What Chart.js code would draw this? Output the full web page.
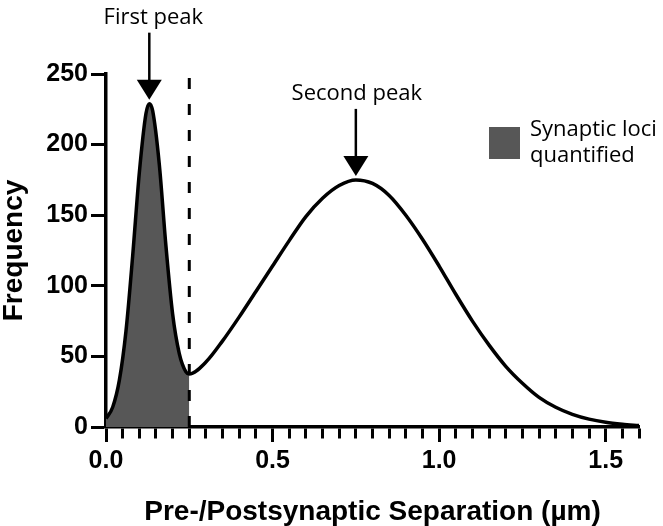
<!DOCTYPE html>
<html>
<head>
<meta charset="utf-8">
<script src="https://cdn.jsdelivr.net/npm/chart.js@4.4.0/dist/chart.umd.min.js"></script>
<style>
  html, body { margin: 0; padding: 0; background: #fff; }
  #wrap { width: 663px; height: 526px; }
</style>
</head>
<body>
<div id="wrap"><canvas id="chart"></canvas></div>
<script>
// separation (um) vs frequency
var separation = [0, 0.02, 0.04, 0.06, 0.08, 0.10, 0.12, 0.13, 0.14, 0.16, 0.18, 0.20, 0.22, 0.24, 0.25,
  0.30, 0.35, 0.40, 0.45, 0.50, 0.55, 0.60, 0.65, 0.70, 0.75, 0.80, 0.85, 0.90, 0.95, 1.00,
  1.05, 1.10, 1.15, 1.20, 1.25, 1.30, 1.35, 1.40, 1.45, 1.50, 1.55, 1.60];
var frequency = [6, 14, 33, 68, 121, 180, 222, 229, 224, 186, 128, 80, 52, 39, 37.5,
  46, 61, 78, 96, 114, 132, 149, 162, 171, 175, 172.5, 164, 150, 133, 114,
  94, 75, 58, 43, 31, 21, 14, 9, 5.6, 3.4, 2, 1];
var cutoff = [0.25];
var peakX = [0.13, 0.75];
var peakY = [229, 175];
var peakLabels = ['First peak', 'Second peak'];
var legendLines = ['Synaptic loci', 'quantified'];
var xRange = [0, 1.6];
var xTicks = [0, 0.5, 1.0, 1.5];
var yTicks = [0, 50, 100, 150, 200, 250];
var minorStep = 0.05;

var curve = separation.map(function (x, i) { return { x: x, y: frequency[i] }; });
var shaded = curve.filter(function (p) { return p.x <= cutoff[0] + 1e-9; });
var cutLine = [{ x: cutoff[0], y: 0 }, { x: cutoff[0], y: yTicks[yTicks.length - 1] }];

var isMajor = function (v) {
  return xTicks.some(function (t) { return Math.abs(t - v) < 1e-6; });
};

var tickFont = { family: '"Liberation Sans", Arial, sans-serif', size: 25, weight: 'bold' };
var titleFont = { family: '"Liberation Sans", Arial, sans-serif', size: 28, weight: 'bold', lineHeight: 1 };
var noteFont = '22px "Open Sans", sans-serif';

var extras = {
  id: 'extras',
  afterDraw: function (chart) {
    var ctx = chart.ctx;
    var xs = chart.scales.x, ys = chart.scales.y;
    var area = chart.chartArea;
    ctx.save();
    ctx.setLineDash([]);
    ctx.strokeStyle = '#000';
    ctx.fillStyle = '#000';

    // peak arrows
    ctx.font = noteFont;
    ctx.textAlign = 'center';
    ctx.textBaseline = 'alphabetic';
    peakX.forEach(function (v, i) {
      var px = xs.getPixelForValue(v);
      var py = ys.getPixelForValue(peakY[i]);
      ctx.fillText(peakLabels[i], px + (i === 0 ? 4 : 1), py - 80);
      ctx.lineWidth = 2.5;
      ctx.beginPath();
      ctx.moveTo(px, py - 71);
      ctx.lineTo(px, py - 22);
      ctx.stroke();
      ctx.beginPath();
      ctx.moveTo(px - 12.5, py - 24);
      ctx.lineTo(px + 12.5, py - 24);
      ctx.lineTo(px, py - 4);
      ctx.closePath();
      ctx.fill();
    });

    // legend
    var lx = area.right - 150, ly = area.top + 53;
    ctx.fillStyle = '#575757';
    ctx.fillRect(lx, ly, 31, 32);
    ctx.fillStyle = '#000';
    ctx.textAlign = 'left';
    ctx.fillText(legendLines[0], lx + 41, ly + 9);
    ctx.fillText(legendLines[1], lx + 41, ly + 35);
    ctx.restore();
  }
};

new Chart(document.getElementById('chart'), {
  type: 'line',
  data: {
    datasets: [
      {
        label: 'Frequency',
        data: curve,
        borderColor: '#000',
        borderWidth: 3.5,
        pointRadius: 0,
        cubicInterpolationMode: 'monotone',
        fill: false,
        order: 1
      },
      {
        label: 'cutoff',
        data: cutLine,
        borderColor: '#000',
        borderWidth: 3,
        borderDash: [11, 15],
        pointRadius: 0,
        fill: false,
        order: 2
      },
      {
        label: 'Synaptic loci quantified',
        data: shaded,
        borderWidth: 0,
        borderColor: 'rgba(0,0,0,0)',
        backgroundColor: '#575757',
        pointRadius: 0,
        cubicInterpolationMode: 'monotone',
        fill: 'origin',
        order: 3
      }
    ]
  },
  options: {
    responsive: true,
    maintainAspectRatio: false,
    animation: false,
    layout: { padding: { top: 74, right: 24, left: 0, bottom: 0 } },
    plugins: { legend: { display: false }, tooltip: { enabled: false } },
    scales: {
      x: {
        type: 'linear',
        min: xRange[0],
        max: xRange[1],
        afterFit: function (s) { s.height = 99; },
        // every minor step gets a tick mark, only the majors get a label
        afterBuildTicks: function (s) {
          var n = Math.round((xRange[1] - xRange[0]) / minorStep);
          var list = [];
          for (var k = 0; k <= n; k++) list.push({ value: xRange[0] + k * minorStep });
          s.ticks = list;
        },
        ticks: {
          autoSkip: false,
          maxRotation: 0,
          color: '#000',
          font: tickFont,
          padding: 4,
          callback: function (v) { return isMajor(v) ? Number(v).toFixed(1) : ''; }
        },
        grid: {
          drawOnChartArea: false,
          tickLength: 15,
          tickWidth: 3,
          tickColor: '#000',
          tickBorderDash: function (c) {
            return c.tick && !isMajor(c.tick.value) ? [10, 30] : [];
          }
        },
        border: { color: '#000', width: 3.5 },
        title: { display: true, text: 'Pre-/Postsynaptic Separation (µm)', color: '#000', font: titleFont, padding: { top: 0, bottom: 0 } }
      },
      y: {
        min: 0,
        max: 250,
        afterFit: function (s) { s.width = 106; },
        afterBuildTicks: function (s) { s.ticks = yTicks.map(function (v) { return { value: v }; }); },
        ticks: { color: '#000', font: tickFont, padding: 3 },
        grid: { drawOnChartArea: false, tickLength: 15, tickWidth: 3, tickColor: '#000' },
        border: { color: '#000', width: 3.5 },
        title: { display: true, text: 'Frequency', color: '#000', font: titleFont, padding: { top: 0, bottom: 0 } }
      }
    }
  },
  plugins: [extras]
});
</script>
</body>
</html>
